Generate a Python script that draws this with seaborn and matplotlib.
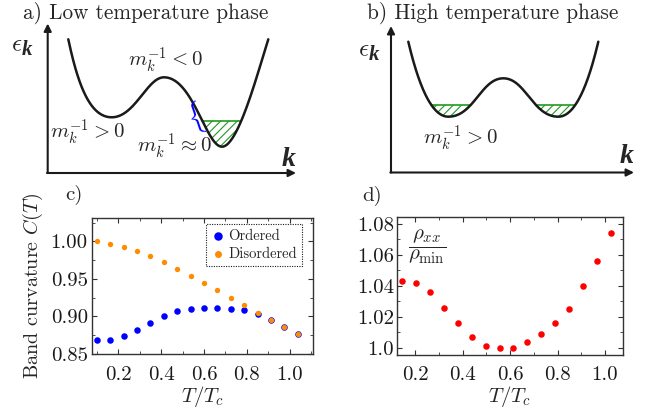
import numpy as np
import matplotlib
matplotlib.use("Agg")
import matplotlib.pyplot as plt
import seaborn as sns
from matplotlib.bezier import BezierSegment
from matplotlib.ticker import MultipleLocator

W, H = 657, 412

# panel c: band curvature vs T/Tc
T_c = [0.100, 0.163, 0.225, 0.288, 0.350, 0.413, 0.475, 0.538,
       0.600, 0.663, 0.725, 0.788, 0.850, 0.913, 0.975, 1.038]
ordered = [0.868, 0.869, 0.874, 0.882, 0.891, 0.900, 0.907, 0.910,
           0.911, 0.911, 0.910, 0.908, 0.903, 0.895, 0.886, 0.876]
disordered = [1.000, 0.997, 0.993, 0.987, 0.981, 0.973, 0.963, 0.954,
              0.945, 0.935, 0.925, 0.915, 0.905, 0.895, 0.886, 0.876]

# panel d: normalised resistivity
T_d = [0.145, 0.204, 0.262, 0.321, 0.380, 0.438, 0.497, 0.556,
       0.614, 0.673, 0.732, 0.790, 0.849, 0.908, 0.966, 1.025]
rho_ratio = [1.043, 1.042, 1.036, 1.026, 1.016, 1.007, 1.001, 1.000,
             1.000, 1.004, 1.009, 1.016, 1.025, 1.040, 1.056, 1.074]

x_ticks = [0.2, 0.4, 0.6, 0.8, 1.0]
x_ticklabels = ["0.2", "0.4", "0.6", "0.8", "1.0"]
c_yticks = [0.85, 0.90, 0.95, 1.00]
c_yticklabels = ["0.85", "0.90", "0.95", "1.00"]
d_yticks = [1.00, 1.02, 1.04, 1.06, 1.08]
d_yticklabels = ["1.0", "1.02", "1.04", "1.06", "1.08"]

# schematic dispersions: cubic bezier nodes in figure pixels
band_low = [
    [(68.3, 39.3), (78, 85), (90, 117.3), (111.7, 117.3)],
    [(111.7, 117.3), (135, 117.3), (147, 77.3), (164, 77.3)],
    [(164, 77.3), (193, 77.3), (206, 146.7), (222, 146.7)],
    [(222, 146.7), (238, 146.7), (257, 75), (268.3, 39.3)],
]
band_high = [
    [(408.3, 41.7), (419, 87), (432, 116.7), (448.3, 116.7)],
    [(448.3, 116.7), (474, 116.7), (481, 78.3), (503.3, 78.3)],
    [(503.3, 78.3), (525.6, 78.3), (532.6, 116.7), (558.3, 116.7)],
    [(558.3, 116.7), (574.6, 116.7), (587.6, 87), (598.3, 41.7)],
]
fill_low = 120.7
fill_high = 105.0

BLUE = "#0000ff"
ORANGE = "#ff8c00"
RED = "#ff0000"
GREEN = "#1f9a1f"

sns.set_theme(style="ticks")
plt.rcParams["font.family"] = ["cmr10", "DejaVu Serif"]
plt.rcParams["mathtext.fontset"] = "cm"
plt.rcParams["axes.formatter.use_mathtext"] = True
plt.rcParams["hatch.linewidth"] = 0.8

fig = plt.figure(figsize=(W / 100, H / 100), dpi=100)

# overlay in pixel units for the schematics and labels
ov = fig.add_axes([0, 0, 1, 1])
ov.set_xlim(0, W)
ov.set_ylim(H, 0)
ov.axis("off")

BOLD_K = dict(fontfamily="Liberation Serif", fontweight="bold",
              fontstyle="italic", va="baseline")


def draw_band(segs, level):
    t = np.linspace(0, 1, 80)
    pts = np.vstack([BezierSegment(np.array(s))(t) for s in segs])
    x, y = pts[:, 0], pts[:, 1]
    ov.plot(x, y, color="k", lw=1.8, solid_capstyle="round", zorder=3)
    below = y >= level
    ov.fill_between(x, y, level, where=below, interpolate=True,
                    facecolor="none", edgecolor=GREEN, hatch="////", linewidth=0)
    # green fermi level segments
    idx = np.where(below)[0]
    groups = np.split(idx, np.where(np.diff(idx) > 1)[0] + 1)
    for g in groups:
        ov.plot([x[g[0]], x[g[-1]]], [level, level], color=GREEN, lw=1.2)


def draw_axes_arrows(x0, y0, x1, y1):
    kw = dict(arrowstyle="-|>", lw=1.5, color="k", mutation_scale=11,
              shrinkA=0, shrinkB=0)
    ov.annotate("", xy=(x0, y1), xytext=(x0, y0), arrowprops=kw)
    ov.annotate("", xy=(x1, y0), xytext=(x0 - 0.7, y0), arrowprops=kw)


def eps_k(x, y):
    ov.text(x, y, r"$\epsilon$", fontsize=18, va="baseline")
    ov.text(x + 11, y + 4, "k", fontsize=15, **BOLD_K)


draw_band(band_low, fill_low)
draw_band(band_high, fill_high)
draw_axes_arrows(47.7, 173, 296, 23.5)
draw_axes_arrows(391, 172.5, 634, 26)

big = 15.3
ov.text(23, 18.3, "a) Low temperature phase", fontsize=big, va="baseline")
ov.text(367, 18.3, "b) High temperature phase", fontsize=big, va="baseline")
eps_k(11, 51)
eps_k(358, 56)
ov.text(282, 165.5, "k", fontsize=20, **BOLD_K)
ov.text(620, 162.5, "k", fontsize=20, **BOLD_K)
ov.text(128, 66, r"$m_k^{-1} < 0$", fontsize=15, va="baseline")
ov.text(50, 138, r"$m_k^{-1} > 0$", fontsize=15, va="baseline")
ov.text(137, 152, r"$m_k^{-1} \approx 0$", fontsize=15, va="baseline")
ov.text(423, 144, r"$m_k^{-1} > 0$", fontsize=15, va="baseline")
ov.text(195.5, 118.5, r"$\{$", fontsize=20, color=BLUE, rotation=19,
        ha="center", va="center")
ov.text(65, 200, "c)", fontsize=15, va="baseline")
ov.text(362, 200.5, "d)", fontsize=15, va="baseline")


def style_frame(ax):
    for sp in ax.spines.values():
        sp.set_color("#333333")
        sp.set_linewidth(1.0)
    ax.tick_params(which="both", direction="in", top=True, right=True,
                   colors="#333333", labelcolor="k", labelsize=15)
    ax.tick_params(which="major", length=3.5, width=0.8)
    ax.tick_params(which="minor", length=2, width=0.6)
    ax.tick_params(axis="x", pad=8.5)
    ax.tick_params(axis="y", pad=3)


# panel c
axc = fig.add_axes([92 / W, 1 - 354 / H, 221 / W, 136 / H])
sns.scatterplot(x=T_c, y=ordered, ax=axc, color=BLUE, s=22, linewidth=0,
                label="Ordered")
sns.scatterplot(x=T_c, y=disordered, ax=axc, color=ORANGE, s=15, linewidth=0,
                label="Disordered")
axc.set_xlim(0.0775, 1.1086)
axc.set_ylim(0.85, 1.031)
axc.set_xticks(x_ticks, labels=x_ticklabels)
axc.set_yticks(c_yticks, labels=c_yticklabels)
axc.xaxis.set_minor_locator(MultipleLocator(0.1))
axc.yaxis.set_minor_locator(MultipleLocator(0.025))
axc.set_xlabel(r"$T/T_c$", fontsize=15, labelpad=0)
axc.set_ylabel(r"Band curvature $C(T)$", fontsize=14.5, labelpad=4)
style_frame(axc)
leg = axc.legend(loc="upper right", bbox_to_anchor=(0.95, 0.956),
                 borderaxespad=0, fontsize=10.5, frameon=True, fancybox=False,
                 markerscale=1.3, handletextpad=0.2, handlelength=1.0,
                 borderpad=0.35, labelspacing=0.3)
fr = leg.get_frame()
fr.set_edgecolor("k")
fr.set_linewidth(0.8)
fr.set_linestyle((0, (1, 1.2)))
fr.set_alpha(1)

# panel d
axd = fig.add_axes([396.7 / W, 1 - 354.5 / H, 226.3 / W, 137.8 / H])
sns.scatterplot(x=T_d, y=rho_ratio, ax=axd, color=RED, s=22, linewidth=0)
axd.set_xlim(0.1216, 1.076)
axd.set_ylim(0.9957, 1.0847)
axd.set_xticks(x_ticks, labels=x_ticklabels)
axd.set_yticks(d_yticks, labels=d_yticklabels)
axd.xaxis.set_minor_locator(MultipleLocator(0.1))
axd.yaxis.set_minor_locator(MultipleLocator(0.01))
axd.set_xlabel(r"$T/T_c$", fontsize=15, labelpad=0)
style_frame(axd)
axd.tick_params(axis="y", pad=2)
axd.text(0.135, 0.78, r"$\dfrac{\rho_{xx}}{\rho_{\min}}$", fontsize=15,
         transform=axd.transAxes, ha="center", va="center")

fig.savefig("out.png", dpi=100)
